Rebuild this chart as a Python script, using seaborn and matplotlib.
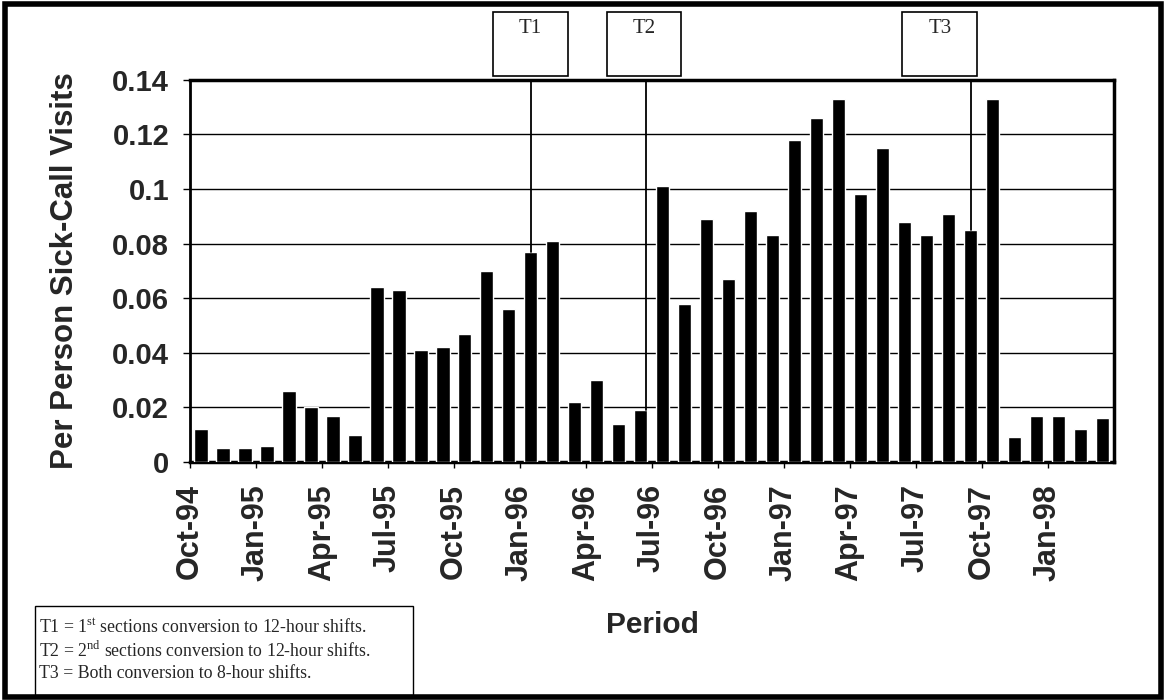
import numpy as np
import pandas as pd
import matplotlib.pyplot as plt
import seaborn as sns
from matplotlib.patches import Rectangle
from matplotlib.transforms import blended_transform_factory

# month labels Oct-94 .. Mar-98
months = list(pd.date_range("1994-10-01", "1998-03-01", freq="MS").strftime("%b-%y"))

# per person sick-call visits
visits = [0.012, 0.005, 0.005, 0.006, 0.026, 0.020, 0.017, 0.010,
          0.064, 0.063, 0.041, 0.042, 0.047, 0.070, 0.056, 0.077,
          0.081, 0.022, 0.030, 0.014, 0.019, 0.101, 0.058, 0.089,
          0.067, 0.092, 0.083, 0.118, 0.126, 0.133, 0.098, 0.115,
          0.088, 0.083, 0.091, 0.085, 0.133, 0.009, 0.017, 0.017,
          0.012, 0.016]

yticks = [0, 0.02, 0.04, 0.06, 0.08, 0.1, 0.12, 0.14]
ylabels = ["0", "0.02", "0.04", "0.06", "0.08", "0.1", "0.12", "0.14"]

# shift change events (bar index where the line sits)
events = ["T1", "T2", "T3"]
event_x = [15, 20.25, 35]
event_box_center = [14.97, 20.15, 33.6]

notes = [r"T1 = 1$^{\mathrm{st}}$ sections conversion to 12-hour shifts.",
         r"T2 = 2$^{\mathrm{nd}}$ sections conversion to 12-hour shifts.",
         "T3 = Both conversion to 8-hour shifts."]

sns.set_style("white")
plt.rcParams['font.family'] = ['Liberation Sans', 'DejaVu Sans']
plt.rcParams['mathtext.fontset'] = 'custom'
plt.rcParams['mathtext.rm'] = 'Liberation Serif'

df = pd.DataFrame({"month": months, "visits": visits})

fig = plt.figure(figsize=(11.66, 7), dpi=100)
ax = fig.add_axes([0.163, 0.34, 0.792, 0.546])

sns.barplot(data=df, x="month", y="visits", color="black", saturation=1,
            width=0.6, ax=ax, zorder=3)

ax.set_xlim(-0.5, len(months) - 0.5)
ax.set_ylim(0, 0.14)
ax.set_yticks(yticks)
ax.set_yticklabels(ylabels, fontsize=21, fontweight="bold")
ax.set_xticks(np.arange(-0.5, len(months) - 1, 3))
ax.set_xticklabels(months[::3], rotation=90, fontsize=22, fontweight="bold")
ax.tick_params(axis="y", length=5, width=1, pad=10, color="black", left=True)
ax.tick_params(axis="x", length=4, width=1, pad=12, color="black", bottom=True)
ax.set_xlabel("")
ax.set_ylabel("")
ax.yaxis.grid(True, color="black", lw=1)
ax.xaxis.grid(False)
ax.set_axisbelow(True)
for side, s in ax.spines.items():
    s.set_visible(True)
    s.set_color("black")
    s.set_linewidth(2.5)
ax.spines["left"].set_linewidth(2)

# event lines and boxes
trans = blended_transform_factory(ax.transData, ax.transAxes)
for lab, x, cx in zip(events, event_x, event_box_center):
    top = visits[int(round(x))]
    ax.plot([x, x], [top, 0.14], color="black", lw=1.3, zorder=4)
    ax.add_patch(Rectangle((cx - 1.7, 1.01), 3.4, 0.168, transform=trans,
                           fill=True, fc="white", ec="black", lw=1.2,
                           clip_on=False))
    ax.text(cx, 1.135, lab, transform=trans, ha="center", va="center",
            fontsize=15, family="Liberation Serif")

fig.text(65 / 1166, 0.613, "Per Person Sick-Call Visits", rotation=90,
         ha="center", va="center", fontsize=22.5, fontweight="bold")
fig.text(652 / 1166, 1 - 625 / 700, "Period", ha="center", va="center",
         fontsize=21.5, fontweight="bold")

# notes box
fig.patches.append(Rectangle((35 / 1166, 1 - 695 / 700), 378 / 1166, 89 / 700,
                             transform=fig.transFigure, fill=False,
                             ec="black", lw=1))
for i, t in enumerate(notes):
    fig.text(39 / 1166, 1 - (628 + 22.5 * i) / 700, t, ha="left", va="center",
             fontsize=12.8, family="Liberation Serif")

# outer frame
fig.patches.append(Rectangle((0.004, 0.005), 0.992, 0.99,
                             transform=fig.transFigure, fill=False,
                             ec="black", lw=4))

fig.savefig("out.png", dpi=100)
